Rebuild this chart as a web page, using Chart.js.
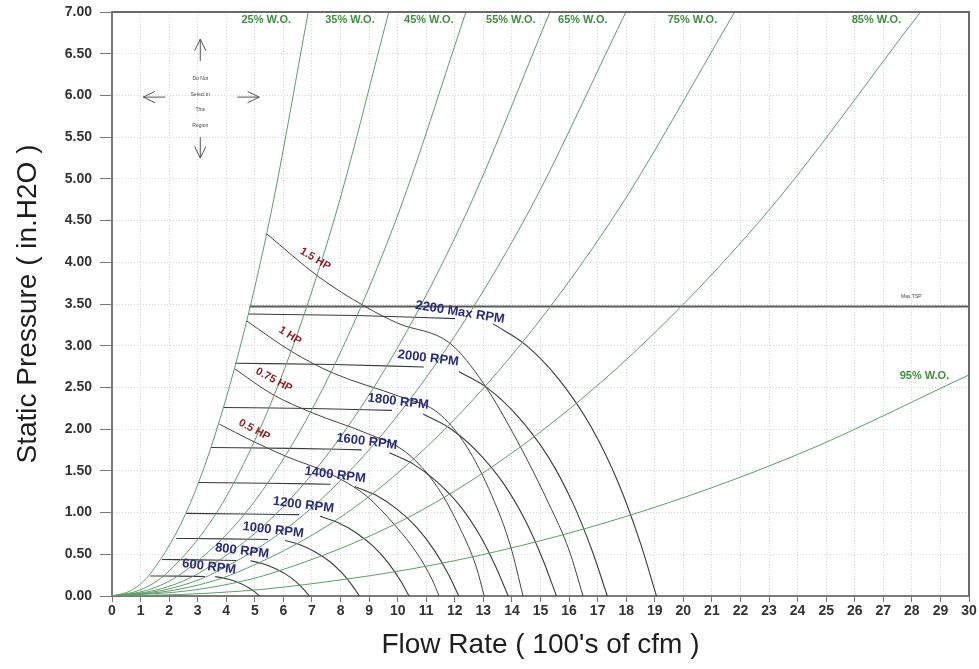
<!DOCTYPE html>
<html>
<head>
<meta charset="utf-8">
<title>Fan performance curve</title>
<script src="https://cdn.jsdelivr.net/npm/chart.js@4.4.1/dist/chart.umd.min.js"></script>
<style>
  html, body { margin: 0; padding: 0; background: #fff; }
  #wrap { width: 979px; height: 669px; }
</style>
</head>
<body>
<div id="wrap"><canvas id="fan-chart" width="979" height="669"></canvas></div>
<script>
// --- axis ranges --- //
const flowRange = [0, 30];        // 100's of cfm
const pressureRange = [0, 7];     // in. H2O

// --- system (wide open %) curves, [flow, pressure] --- //
const wo25 = [[0, 0], [0.69, 0.07], [1.37, 0.28], [2.75, 1.12], [4.12, 2.52], [5.50, 4.48], [6.87, 7]];
const wo35 = [[0, 0], [0.97, 0.07], [1.94, 0.28], [3.88, 1.12], [5.81, 2.52], [7.75, 4.48], [9.69, 7]];
const wo45 = [[0, 0], [1.24, 0.07], [2.48, 0.28], [4.96, 1.12], [7.43, 2.52], [9.91, 4.48], [12.39, 7]];
const wo55 = [[0, 0], [1.53, 0.07], [3.07, 0.28], [6.13, 1.12], [9.20, 2.52], [12.26, 4.48], [15.33, 7]];
const wo65 = [[0, 0], [1.80, 0.07], [3.60, 0.28], [7.20, 1.12], [10.79, 2.52], [14.39, 4.48], [17.99, 7]];
const wo75 = [[0, 0], [2.18, 0.07], [4.36, 0.28], [8.72, 1.12], [13.08, 2.52], [17.44, 4.48], [21.80, 7]];
const wo85 = [[0, 0], [2.83, 0.07], [5.66, 0.28], [11.32, 1.12], [16.98, 2.52], [22.64, 4.48], [28.30, 7]];
const wo95 = [[0, 0], [3, 0.027], [6, 0.106], [12, 0.424], [18, 0.954], [24, 1.696], [30, 2.65]];
const woCurves = [wo25, wo35, wo45, wo55, wo65, wo75, wo85, wo95];
const woNames = ["25% W.O.", "35% W.O.", "45% W.O.", "55% W.O.", "65% W.O.", "75% W.O.", "85% W.O.", "95% W.O."];

// --- fan speed curves (null = break under the label) --- //
const rpm600  = [[1.34, 0.24], [2.32, 0.238], [3.25, 0.234], null, [3.61, 0.232], [3.92, 0.214], [4.23, 0.185], [4.54, 0.144], [4.80, 0.096], [5.01, 0.046], [5.16, 0]];
const rpm800  = [[1.75, 0.437], [3.11, 0.433], [4.35, 0.426], null, [4.84, 0.422], [5.25, 0.389], [5.67, 0.336], [6.08, 0.262], [6.43, 0.175], [6.70, 0.083], [6.91, 0]];
const rpm1000 = [[2.25, 0.69], [3.90, 0.685], [5.46, 0.678], null, [6.06, 0.666], [6.58, 0.614], [7.10, 0.531], [7.62, 0.414], [8.05, 0.276], [8.40, 0.131], [8.66, 0]];
const rpm1200 = [[2.60, 0.99], [4.68, 0.983], [6.55, 0.975], null, [7.28, 0.955], [7.90, 0.881], [8.53, 0.762], [9.15, 0.594], [9.67, 0.396], [10.09, 0.188], [10.40, 0]];
const rpm1400 = [[3.03, 1.36], [5.46, 1.352], [7.65, 1.340], null, [8.50, 1.312], [9.23, 1.210], [9.95, 1.047], [10.68, 0.816], [11.29, 0.544], [11.78, 0.258], [12.14, 0]];
const rpm1600 = [[3.47, 1.78], [6.24, 1.770], [8.74, 1.752], null, [9.71, 1.718], [10.54, 1.584], [11.37, 1.371], [12.21, 1.068], [12.90, 0.712], [13.45, 0.338], [13.87, 0]];
const rpm1800 = [[3.90, 2.26], [7.00, 2.248], [9.80, 2.225], null, [10.89, 2.181], [11.83, 2.011], [12.76, 1.740], [13.69, 1.356], [14.47, 0.904], [15.09, 0.429], [15.56, 0]];
const rpm2000 = [[4.31, 2.79], [7.80, 2.775], [10.92, 2.745], null, [12.14, 2.692], [13.18, 2.483], [14.22, 2.148], [15.26, 1.674], [16.13, 1.116], [16.82, 0.530], [17.34, 0]];
const rpm2200 = [[4.78, 3.38], [8.58, 3.362], [12.01, 3.325], null, [13.34, 3.262], [14.49, 3.008], [15.63, 2.603], [16.77, 2.028], [17.73, 1.352], [18.49, 0.642], [19.06, 0]];
const rpmCurves = [rpm600, rpm800, rpm1000, rpm1200, rpm1400, rpm1600, rpm1800, rpm2000, rpm2200];
const rpmNames = ["600 RPM", "800 RPM", "1000 RPM", "1200 RPM", "1400 RPM", "1600 RPM", "1800 RPM", "2000 RPM", "2200 Max RPM"];

// --- brake horsepower curves --- //
const hp05  = [[3.76, 2.06], [4.90, 1.86], [6.12, 1.67], [7.60, 1.47], [8.90, 1.20], [9.90, 0.85], [10.70, 0.50], [11.20, 0.20], [11.45, 0]];
const hp075 = [[4.31, 2.72], [5.60, 2.42], [7.05, 2.19], [8.92, 1.95], [10.30, 1.72], [11.40, 1.30], [12.20, 0.80], [12.75, 0.35], [13.03, 0]];
const hp1   = [[4.70, 3.30], [6.29, 2.93], [7.75, 2.67], [10.08, 2.39], [11.40, 2.20], [12.40, 1.80], [13.30, 1.20], [13.95, 0.60], [14.39, 0]];
const hp15  = [[5.42, 4.34], [7.22, 3.83], [8.86, 3.47], [10.00, 3.27], [11.83, 3.03], [13.00, 2.55], [14.20, 1.85], [15.30, 1.10], [16.00, 0.55], [16.49, 0]];
const hpCurves = [hp05, hp075, hp1, hp15];
const hpNames = ["0.5 HP", "0.75 HP", "1 HP", "1.5 HP"];

// --- max total static pressure limit --- //
const maxTsp = [[4.81, 3.47], [30, 3.47]];

// ------------------------------------------------------------------ //
const FONT = "'Liberation Sans', Arial, sans-serif";

const toPts = arr => arr.map(([x, y]) => ({ x, y }));

const lineSet = (points, color, width) => ({
    data: toPts(points),
    showLine: true,
    borderColor: color,
    borderWidth: width,
    pointRadius: 0,
    fill: false,
    cubicInterpolationMode: 'monotone'
});

const datasets = [];
woCurves.forEach(c => datasets.push(lineSet(c, '#5f9c68', 1)));
hpCurves.forEach(c => datasets.push(lineSet(c, '#4a4040', 1)));
rpmCurves.forEach(c => {
    // split each speed curve where the label breaks it
    const gap = c.indexOf(null);
    datasets.push(lineSet(c.slice(0, gap), '#3a3a3a', 1.1));
    datasets.push(lineSet(c.slice(gap + 1), '#3a3a3a', 1.1));
});
datasets.push(lineSet(maxTsp, '#5a5a5a', 2));

// label anchors (data coords) and tilt in degrees
const woLabelAt  = [[5.40, 6.91], [8.33, 6.91], [11.09, 6.91], [13.96, 6.91], [16.48, 6.91], [20.32, 6.91], [26.76, 6.91], [28.44, 2.64]];
const rpmLabelAt = [[3.40, 0.35], [4.55, 0.54], [5.64, 0.79], [6.70, 1.09], [7.81, 1.45], [8.92, 1.85], [10.02, 2.33], [11.07, 2.85], [12.18, 3.40]];
const hpLabelAt  = [[4.98, 1.99], [5.67, 2.59], [6.23, 3.12], [7.11, 4.04]];
const hpTilt = [28, 28, 33, 31];

function textAt(chart, str, x, y, font, color, angle) {
    const ctx = chart.ctx;
    const px = chart.scales.x.getPixelForValue(x);
    const py = chart.scales.y.getPixelForValue(y);
    ctx.save();
    ctx.translate(px, py);
    ctx.rotate((angle || 0) * Math.PI / 180);
    ctx.font = font;
    ctx.fillStyle = color;
    ctx.textAlign = 'center';
    ctx.textBaseline = 'middle';
    ctx.fillText(str, 0, 0);
    ctx.restore();
}

function arrow(ctx, x1, y1, x2, y2) {
    // open V head at (x2, y2)
    const a = Math.atan2(y2 - y1, x2 - x1);
    const h = 13;
    ctx.beginPath();
    ctx.moveTo(x1, y1);
    ctx.lineTo(x2, y2);
    ctx.moveTo(x2 - h * Math.cos(a - 0.45), y2 - h * Math.sin(a - 0.45));
    ctx.lineTo(x2, y2);
    ctx.lineTo(x2 - h * Math.cos(a + 0.45), y2 - h * Math.sin(a + 0.45));
    ctx.stroke();
}

const annotate = {
    id: 'annotate',
    afterDatasetsDraw(chart) {
        const ctx = chart.ctx;
        const area = chart.chartArea;
        const sx = v => chart.scales.x.getPixelForValue(v);
        const sy = v => chart.scales.y.getPixelForValue(v);

        // frame top / right
        ctx.save();
        ctx.strokeStyle = '#6a6a6a';
        ctx.lineWidth = 2;
        ctx.beginPath();
        ctx.moveTo(area.left, area.top);
        ctx.lineTo(area.right, area.top);
        ctx.lineTo(area.right, area.bottom);
        ctx.stroke();
        ctx.restore();

        woNames.forEach((t, i) => textAt(chart, t, woLabelAt[i][0], woLabelAt[i][1], `bold 11px ${FONT}`, '#3d8f3d', 0));
        rpmNames.forEach((t, i) => textAt(chart, t, rpmLabelAt[i][0], rpmLabelAt[i][1], `bold 13px ${FONT}`, '#2b2b7c', i === 8 ? 9 : 7));
        hpNames.forEach((t, i) => textAt(chart, t, hpLabelAt[i][0], hpLabelAt[i][1], `bold 11px ${FONT}`, '#8a1c1c', hpTilt[i]));
        textAt(chart, 'Max TSP', 27.98, 3.59, `5px ${FONT}`, '#444', 0);

        // "do not select" marker
        const cx = sx(3.09), cy = sy(5.98);
        ctx.save();
        ctx.strokeStyle = '#555';
        ctx.lineWidth = 1;
        arrow(ctx, cx, cy - 36, cx, cy - 58);
        arrow(ctx, cx, cy + 40, cx, cy + 61);
        arrow(ctx, cx - 35, cy, cx - 57, cy);
        arrow(ctx, cx + 37, cy, cx + 59, cy);
        ctx.font = `5px ${FONT}`;
        ctx.fillStyle = '#444';
        ctx.textAlign = 'center';
        ctx.textBaseline = 'middle';
        ['Do Not', 'Select in', 'This', 'Region'].forEach((t, i) => ctx.fillText(t, cx, cy - 18 + i * 15.5));
        ctx.restore();
    }
};

const fanCanvas = document.getElementById('fan-chart');

const fanChart = new Chart(fanCanvas, {
    type: 'scatter',
    data: { datasets },
    options: {
        responsive: false,
        animation: false,
        layout: { padding: { top: 12, right: 10, left: 0, bottom: 0 } },
        plugins: {
            legend: { display: false },
            tooltip: { enabled: false }
        },
        scales: {
            x: {
                type: 'linear',
                min: flowRange[0],
                max: flowRange[1],
                ticks: {
                    stepSize: 1,
                    autoSkip: false,
                    maxRotation: 0,
                    padding: 1,
                    color: '#333',
                    font: { family: FONT, size: 14, weight: 'bold' }
                },
                grid: { color: '#d6d6d6', tickColor: '#777', tickLength: 6, tickBorderDash: [] },
                border: { display: true, color: '#7a7a7a', width: 2, dash: [1, 2] },
                title: {
                    display: true,
                    text: "Flow Rate ( 100's of cfm )",
                    color: '#1e1e1e',
                    font: { family: FONT, size: 28 },
                    padding: { top: 0, bottom: 7 }
                },
                afterFit: s => {
                    s.height = 73;
                    s.paddingLeft = 0;
                    s.paddingRight = 0;
                }
            },
            y: {
                type: 'linear',
                min: pressureRange[0],
                max: pressureRange[1],
                ticks: {
                    stepSize: 0.5,
                    padding: 8,
                    color: '#333',
                    font: { family: FONT, size: 14, weight: 'bold' },
                    callback: v => Number(v).toFixed(2)
                },
                grid: { color: '#d6d6d6', tickColor: '#777', tickLength: 12, tickBorderDash: [] },
                border: { display: true, color: '#7a7a7a', width: 2, dash: [1, 2] },
                title: {
                    display: true,
                    text: 'Static Pressure ( in.H2O )',
                    color: '#1e1e1e',
                    font: { family: FONT, size: 28 },
                    padding: { top: 11, bottom: 0 }
                },
                afterFit: s => {
                    s.width = 112;
                    s.paddingTop = 0;
                    s.paddingBottom = 0;
                }
            }
        }
    },
    plugins: [annotate]
});
</script>
</body>
</html>
